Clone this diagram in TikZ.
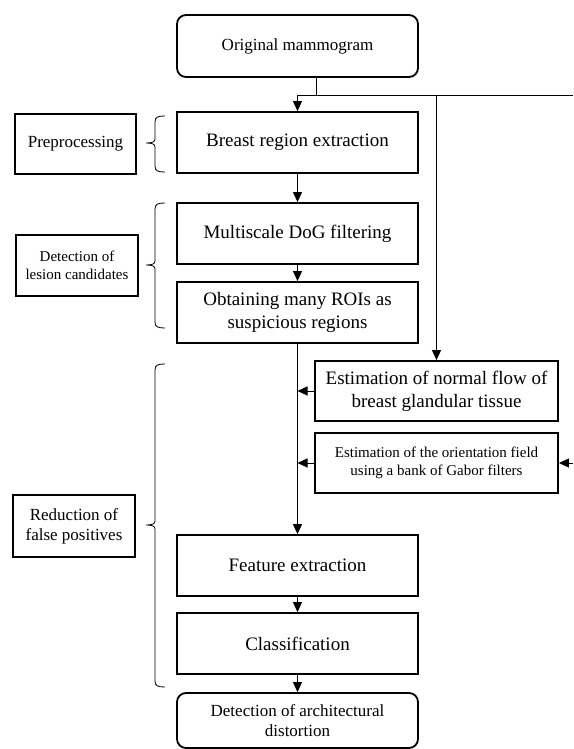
\documentclass[tikz,border=0pt]{standalone}
\usepackage{fontspec}
\setmainfont{Liberation Serif}
\usetikzlibrary{arrows.meta}
\tikzset{
  box/.style={draw, line width=1.8pt, inner sep=0pt, align=center, minimum width=241pt, minimum height=61pt},
  rbox/.style={box, rounded corners=9pt},
  sidebox/.style={draw, line width=1.8pt, inner sep=0pt, align=center},
  conn/.style={line width=0.9pt},
  arr/.style={conn, -{Triangle[length=10pt,width=9pt]}},
  brc/.style={line width=0.8pt},
  bigf/.style={font=\fontsize{19}{23}\selectfont},
  midf/.style={font=\fontsize{17}{20}\selectfont},
  smlf/.style={font=\fontsize{15}{18}\selectfont}
}
\newcommand{\mybrc}[3]{%
  \draw[brc] (165,#1) .. controls (158,#1) and (155,#1+1) .. (155,#1+6) -- (155,#2-4)
    .. controls (155,#2-1) and (152,#2) .. (146,#2)
    .. controls (152,#2) and (155,#2+1) .. (155,#2+4) -- (155,#3-6)
    .. controls (155,#3-1) and (158,#3) .. (165,#3);}
\begin{document}
\begin{tikzpicture}[x=1pt,y=-1pt]
\useasboundingbox (0,0) rectangle (573,749);
% main column
\node[rbox, midf, minimum height=62pt] (orig) at (297.5,46) {Original mammogram};
\node[box, bigf] (breast) at (297.5,142.5) {Breast region extraction};
\node[box, bigf] (dog) at (297.5,233.5) {Multiscale DoG filtering};
\node[box, bigf] (rois) at (297.5,312.5) {Obtaining many ROIs as\\suspicious regions};
\node[box, bigf, minimum width=243pt, minimum height=60pt] (flow) at (436.5,391) {Estimation of normal flow of\\breast glandular tissue};
\node[box, smlf, minimum width=243pt, minimum height=60pt] (gabor) at (436.5,463) {Estimation of the orientation field\\using a bank of Gabor filters};
\node[box, bigf] (feat) at (297.5,565.5) {Feature extraction};
\node[box, bigf] (cls) at (297.5,643.5) {Classification};
\node[rbox, midf, minimum height=55pt] (det) at (297.5,720.5) {Detection of architectural\\distortion};
% side labels
\node[sidebox, midf, minimum width=121pt, minimum height=60pt] (pre) at (75.5,144) {Preprocessing};
\node[sidebox, smlf, minimum width=122pt, minimum height=61pt] (les) at (77,265.5) {Detection of\\lesion candidates};
\node[sidebox, midf, minimum width=122pt, minimum height=62pt] (red) at (74,526) {Reduction of\\false positives};
% braces
\mybrc{116}{143}{172}
\mybrc{203}{265}{328}
\mybrc{364}{525}{687}
% connector coordinates
\coordinate (j) at (316,95);
\coordinate (jl) at (297.5,95);
\coordinate (jf) at (436.5,95);
\coordinate (jr) at (573,95);
\coordinate (ge) at (573,463);
% connectors
\draw[conn] (orig.south -| j) -- (j);
\draw[conn] (jl) -- (jr);
\draw[arr] (jl) -- (breast.north);
\draw[arr] (jf) -- (flow.north);
\draw[arr] (breast.south) -- (dog.north);
\draw[arr] (dog.south) -- (rois.north);
\draw[arr] (rois.south) -- (feat.north);
\draw[arr] (flow.west) -- (flow.west -| rois.south);
\draw[arr] (gabor.west) -- (gabor.west -| rois.south);
\draw[arr] (ge) -- (gabor.east);
\draw[arr] (feat.south) -- (cls.north);
\draw[arr] (cls.south) -- (det.north);
\end{tikzpicture}
\end{document}
